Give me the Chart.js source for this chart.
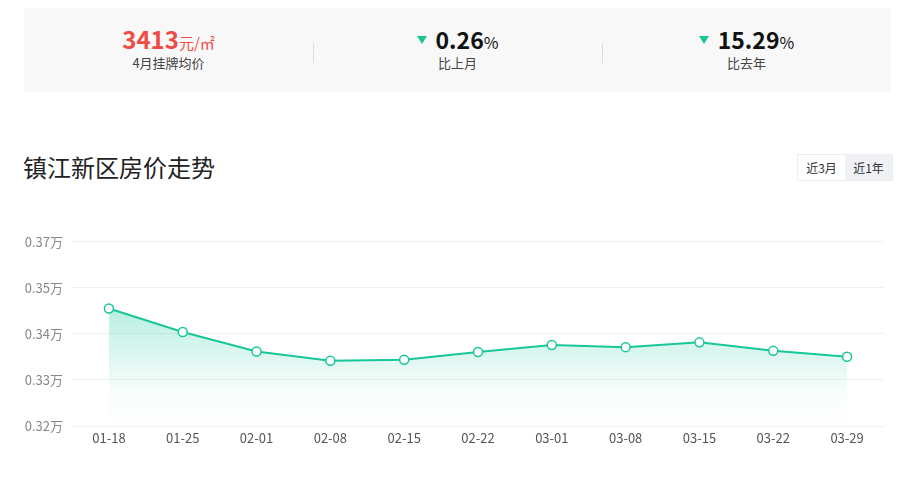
<!DOCTYPE html>
<html>
<head>
<meta charset="utf-8">
<script src="https://cdn.jsdelivr.net/npm/chart.js@4"></script>
<style>
  html,body{margin:0;padding:0;background:#fff;width:915px;height:477px;overflow:hidden;
    font-family:"Noto Sans CJK SC","Noto Sans",sans-serif;}
  .stats{position:absolute;left:24px;top:8px;width:867px;height:84px;background:#f8f8f8;display:flex;}
  .col{flex:1;position:relative;text-align:center;}
  .col + .col::before{content:"";position:absolute;left:0;top:35px;height:20px;width:1px;background:#dcdcdc;}
  .num{position:absolute;left:0;right:0;top:16px;line-height:30px;font-weight:bold;white-space:nowrap;}
  .red{color:#f04c46;font-size:24px;}
  .red small{font-size:15px;font-weight:normal;}
  .blk{color:#111;font-size:23px;}
  .blk small{font-size:16px;font-weight:normal;}
  .tri{display:inline-block;width:0;height:0;border-left:5px solid transparent;border-right:5px solid transparent;
    border-top:8px solid #1cc493;margin-right:9px;vertical-align:middle;position:relative;top:-3px;}
  .sub{position:absolute;left:0;right:0;top:46px;font-size:13px;color:#444;line-height:18px;}
  .title{position:absolute;left:23px;top:150px;font-size:24px;color:#222;line-height:34px;}
  .tog{position:absolute;left:797px;top:154px;height:27px;display:flex;border:1px solid #eee;box-sizing:border-box;}
  .tog div{width:47px;line-height:25px;text-align:center;font-size:12px;color:#333;}
  .tog .on{background:#eff1f4;}
  #wrap{position:absolute;left:20px;top:225px;width:870px;height:226px;}
</style>
</head>
<body>
<div class="stats">
  <div class="col"><div class="num red">3413<small>元/㎡</small></div><div class="sub">4月挂牌均价</div></div>
  <div class="col"><div class="num blk"><span class="tri"></span>0.26<small>%</small></div><div class="sub">比上月</div></div>
  <div class="col"><div class="num blk"><span class="tri"></span>15.29<small>%</small></div><div class="sub">比去年</div></div>
</div>
<div class="title">镇江新区房价走势</div>
<div class="tog"><div>近3月</div><div class="on">近1年</div></div>
<div id="wrap"><canvas id="c"></canvas></div>
<script>
const categories = ['01-18','01-25','02-01','02-08','02-15','02-22','03-01','03-08','03-15','03-22','03-29'];
const prices = [3519, 3455, 3402, 3377, 3380, 3401, 3420, 3414, 3427, 3404, 3388];
const yTickLabels = ['0.32万','0.33万','0.34万','0.35万','0.37万'];
const yMin = 3200, yMax = 3700, yStep = 125;

const lineColor = '#17c79a';
const fontFam = '"Noto Sans CJK SC","Noto Sans",sans-serif';
const ctx = document.getElementById('c').getContext('2d');
new Chart(ctx, {
  type: 'line',
  data: {
    labels: categories,
    datasets: [{
      data: prices,
      borderColor: lineColor,
      borderWidth: 2,
      tension: 0,
      pointRadius: 4.5,
      pointHoverRadius: 4.5,
      pointBackgroundColor: '#fff',
      pointBorderColor: lineColor,
      pointBorderWidth: 1.5,
      fill: 'start',
      backgroundColor: function(context) {
        const ch = context.chart;
        const a = ch.chartArea;
        if (!a) return 'rgba(23,199,154,0.2)';
        const yTop = ch.scales.y.getPixelForValue(Math.max(...prices));
        const g = ch.ctx.createLinearGradient(0, yTop, 0, a.bottom);
        g.addColorStop(0, 'rgba(23,199,154,0.3)');
        g.addColorStop(0.7, 'rgba(23,199,154,0.03)');
        g.addColorStop(1, 'rgba(23,199,154,0)');
        return g;
      }
    }]
  },
  options: {
    responsive: true,
    maintainAspectRatio: false,
    animation: false,
    layout: { padding: { top: 4, right: 0, left: 0, bottom: 0 } },
    plugins: { legend: { display: false }, tooltip: { enabled: false } },
    scales: {
      x: {
        offset: true,
        grid: { display: false, drawTicks: false },
        border: { display: false },
        ticks: { color: '#555', font: { size: 13, family: fontFam }, padding: 4, maxRotation: 0, autoSkip: false },
        afterFit: s => { s.height = 25; }
      },
      y: {
        min: yMin, max: yMax,
        grid: { color: '#f0f0f0', drawTicks: false, lineWidth: 1 },
        border: { display: false },
        ticks: {
          stepSize: yStep,
          color: '#888',
          padding: 9,
          font: { size: 13, family: fontFam },
          callback: (v, i) => yTickLabels[i]
        },
        afterFit: s => { s.width = 52; }
      }
    }
  }
});
</script>
</body>
</html>
